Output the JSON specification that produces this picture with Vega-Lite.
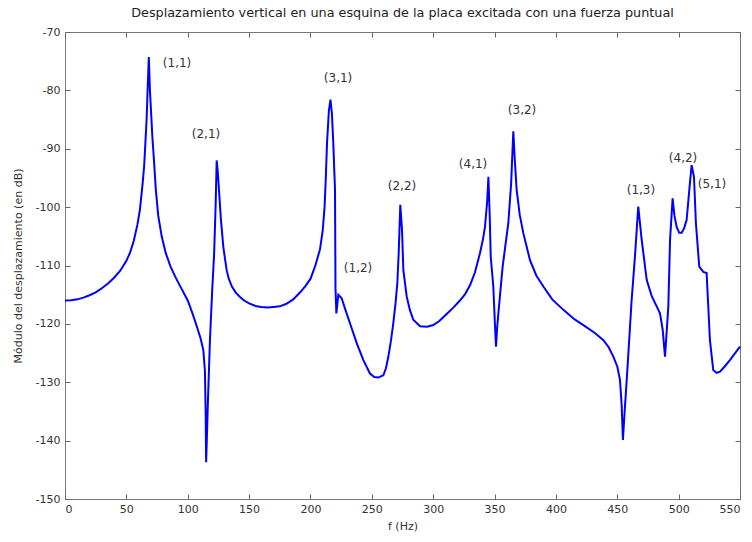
{
  "$schema": "https://vega.github.io/schema/vega-lite/v6.json",
  "width": 675,
  "height": 467,
  "autosize": {"type": "none"},
  "padding": {"left": 65, "top": 32, "right": 12, "bottom": 43},
  "background": "white",
  "title": {
    "text": "Desplazamiento vertical en una esquina de la placa excitada con una fuerza puntual",
    "font": "DejaVu Sans",
    "fontSize": 12.8,
    "fontWeight": "normal",
    "color": "#222",
    "anchor": "middle",
    "offset": 6
  },
  "config": {
    "view": {"stroke": "#777", "strokeWidth": 1},
    "axis": {
      "domain": false,
      "grid": false,
      "tickSize": 5,
      "tickColor": "#666",
      "tickWidth": 1,
      "labelFont": "DejaVu Sans",
      "labelFontSize": 11,
      "labelColor": "#333",
      "titleFont": "DejaVu Sans",
      "titleFontSize": 11,
      "titleFontWeight": "normal",
      "titleColor": "#333"
    }
  },
  "datasets": {
    "curve": [
      {"f": 0, "db": -116},
      {"f": 5, "db": -115.95},
      {"f": 10, "db": -115.8},
      {"f": 15, "db": -115.5},
      {"f": 20, "db": -115.1},
      {"f": 25, "db": -114.6},
      {"f": 30, "db": -113.9},
      {"f": 35, "db": -113.1},
      {"f": 40, "db": -112.1},
      {"f": 45, "db": -110.9},
      {"f": 50, "db": -109.2},
      {"f": 53, "db": -107.8},
      {"f": 56, "db": -105.8},
      {"f": 59, "db": -103},
      {"f": 61, "db": -100.5},
      {"f": 63, "db": -96.5},
      {"f": 64.5, "db": -93},
      {"f": 65.5, "db": -89},
      {"f": 66.5, "db": -85},
      {"f": 67.3, "db": -80},
      {"f": 68.3, "db": -74.3},
      {"f": 69.2, "db": -80},
      {"f": 70.2, "db": -84},
      {"f": 71.2, "db": -88},
      {"f": 72.5, "db": -92},
      {"f": 74, "db": -97},
      {"f": 76, "db": -101.5},
      {"f": 78.8, "db": -105},
      {"f": 82, "db": -107.8},
      {"f": 86, "db": -110.2},
      {"f": 90, "db": -112},
      {"f": 95, "db": -114},
      {"f": 100, "db": -116},
      {"f": 104, "db": -118.3},
      {"f": 107.5, "db": -120.5},
      {"f": 110.5, "db": -122.5},
      {"f": 112.7, "db": -124.5},
      {"f": 114, "db": -128},
      {"f": 114.6, "db": -135},
      {"f": 115, "db": -143.7},
      {"f": 116.5, "db": -133},
      {"f": 118.1, "db": -122.8},
      {"f": 120, "db": -114},
      {"f": 121.5, "db": -108},
      {"f": 122.7, "db": -100},
      {"f": 123.6, "db": -92},
      {"f": 124.5, "db": -94},
      {"f": 125.3, "db": -96.5},
      {"f": 127, "db": -102},
      {"f": 129, "db": -106.8},
      {"f": 131.7, "db": -110.8},
      {"f": 133.5, "db": -112.3},
      {"f": 136, "db": -113.6},
      {"f": 139, "db": -114.6},
      {"f": 142.6, "db": -115.4},
      {"f": 146, "db": -116},
      {"f": 150, "db": -116.5},
      {"f": 156.2, "db": -117},
      {"f": 160, "db": -117.1},
      {"f": 165, "db": -117.2},
      {"f": 170, "db": -117.1},
      {"f": 175, "db": -117},
      {"f": 180, "db": -116.6},
      {"f": 186, "db": -115.8},
      {"f": 192, "db": -114.5},
      {"f": 196, "db": -113.5},
      {"f": 200, "db": -112.3},
      {"f": 204, "db": -110},
      {"f": 207.8, "db": -107.2},
      {"f": 210, "db": -104},
      {"f": 211.5, "db": -100},
      {"f": 212.5, "db": -95},
      {"f": 213.5, "db": -89},
      {"f": 215, "db": -83.5},
      {"f": 216.3, "db": -81.6},
      {"f": 217.5, "db": -84},
      {"f": 218.6, "db": -89},
      {"f": 220, "db": -97},
      {"f": 220.4, "db": -113.9},
      {"f": 221.1, "db": -118.2},
      {"f": 222.7, "db": -115},
      {"f": 225.4, "db": -115.6},
      {"f": 228.5, "db": -117.6},
      {"f": 232.2, "db": -119.9},
      {"f": 237.7, "db": -123.3},
      {"f": 243.1, "db": -126.2},
      {"f": 248.5, "db": -128.5},
      {"f": 252, "db": -129.1},
      {"f": 255.3, "db": -129.2},
      {"f": 259.4, "db": -128.8},
      {"f": 261.5, "db": -127.6},
      {"f": 263.5, "db": -125.6},
      {"f": 265.5, "db": -123},
      {"f": 267.5, "db": -119.9},
      {"f": 269.3, "db": -116.5},
      {"f": 270.8, "db": -113},
      {"f": 271.9, "db": -107.9},
      {"f": 273.2, "db": -99.6},
      {"f": 274.6, "db": -103.9},
      {"f": 275.7, "db": -110.8},
      {"f": 278.4, "db": -115.3},
      {"f": 281, "db": -117.6},
      {"f": 283.8, "db": -119.3},
      {"f": 289.3, "db": -120.4},
      {"f": 295, "db": -120.5},
      {"f": 300.1, "db": -120.2},
      {"f": 305, "db": -119.5},
      {"f": 311, "db": -118.3},
      {"f": 316, "db": -117.3},
      {"f": 321.8, "db": -116},
      {"f": 326, "db": -114.9},
      {"f": 330, "db": -113.4},
      {"f": 334, "db": -111.2},
      {"f": 338.1, "db": -107.9},
      {"f": 340.5, "db": -105.6},
      {"f": 342.2, "db": -103.4},
      {"f": 344, "db": -99},
      {"f": 345, "db": -94.8},
      {"f": 346, "db": -101},
      {"f": 346.9, "db": -108.5},
      {"f": 349, "db": -113.6},
      {"f": 350.3, "db": -120},
      {"f": 351.2, "db": -123.9},
      {"f": 352, "db": -121},
      {"f": 353.1, "db": -118.2},
      {"f": 356.6, "db": -110.2},
      {"f": 359, "db": -106.3},
      {"f": 361.2, "db": -102.8},
      {"f": 363.5, "db": -96},
      {"f": 365.3, "db": -87},
      {"f": 366.5, "db": -92},
      {"f": 368, "db": -97},
      {"f": 370.5, "db": -101.3},
      {"f": 373.5, "db": -104.5},
      {"f": 378.9, "db": -109.1},
      {"f": 384, "db": -111.7},
      {"f": 389.8, "db": -113.6},
      {"f": 397, "db": -115.8},
      {"f": 406.1, "db": -117.6},
      {"f": 415, "db": -119.2},
      {"f": 425.1, "db": -120.6},
      {"f": 432, "db": -121.6},
      {"f": 438.7, "db": -122.8},
      {"f": 443, "db": -124},
      {"f": 446.8, "db": -125.6},
      {"f": 450, "db": -127.3},
      {"f": 452.2, "db": -129.6},
      {"f": 453.6, "db": -134},
      {"f": 454.6, "db": -139.9},
      {"f": 456, "db": -135},
      {"f": 457.7, "db": -129.6},
      {"f": 459.8, "db": -122.5},
      {"f": 461.7, "db": -115.9},
      {"f": 464.4, "db": -108.5},
      {"f": 467.1, "db": -99.9},
      {"f": 469.9, "db": -105.6},
      {"f": 474, "db": -112.5},
      {"f": 478, "db": -115.2},
      {"f": 482.1, "db": -117},
      {"f": 484.8, "db": -118.2},
      {"f": 487, "db": -121},
      {"f": 488.9, "db": -125.6},
      {"f": 491.6, "db": -117},
      {"f": 493, "db": -105.6},
      {"f": 495.1, "db": -98.5},
      {"f": 496.6, "db": -101.5},
      {"f": 498.4, "db": -103.4},
      {"f": 500.5, "db": -104.4},
      {"f": 502.5, "db": -104.4},
      {"f": 504.5, "db": -103.6},
      {"f": 506.5, "db": -102.2},
      {"f": 509.2, "db": -95.9},
      {"f": 510.6, "db": -92.8},
      {"f": 512.5, "db": -94.8},
      {"f": 514.1, "db": -102.8},
      {"f": 516.8, "db": -110.2},
      {"f": 520.1, "db": -111.1},
      {"f": 522.8, "db": -111.3},
      {"f": 525.5, "db": -122.8},
      {"f": 528.2, "db": -127.9},
      {"f": 531, "db": -128.4},
      {"f": 533.7, "db": -128.2},
      {"f": 537.5, "db": -127.3},
      {"f": 541.8, "db": -126.2},
      {"f": 546, "db": -125},
      {"f": 550, "db": -123.9}
    ],
    "modes": [
      {"f": 91.3, "db": -75.3, "label": "(1,1)"},
      {"f": 114.9, "db": -87.5, "label": "(2,1)"},
      {"f": 222.5, "db": -77.9, "label": "(3,1)"},
      {"f": 238.8, "db": -110.4, "label": "(1,2)"},
      {"f": 274.6, "db": -96.4, "label": "(2,2)"},
      {"f": 332.5, "db": -92.6, "label": "(4,1)"},
      {"f": 372.4, "db": -83.4, "label": "(3,2)"},
      {"f": 469.3, "db": -97.1, "label": "(1,3)"},
      {"f": 503.6, "db": -91.6, "label": "(4,2)"},
      {"f": 527.2, "db": -96, "label": "(5,1)"}
    ]
  },
  "layer": [
    {
      "data": {"name": "curve"},
      "mark": {"type": "line", "color": "#0000ff", "strokeWidth": 2, "interpolate": "linear"},
      "encoding": {
        "x": {
          "field": "f", "type": "quantitative",
          "scale": {"domain": [0, 550], "nice": false, "zero": false},
          "axis": {"orient": "bottom", "offset": -5, "title": "f (Hz)", "values": [0, 50, 100, 150, 200, 250, 300, 350, 400, 450, 500, 550], "labelPadding": 4, "titlePadding": 6}
        },
        "y": {
          "field": "db", "type": "quantitative",
          "scale": {"domain": [-150, -70], "nice": false, "zero": false},
          "axis": {"orient": "left", "offset": -5, "title": "Módulo del desplazamiento (en dB)", "values": [-150, -140, -130, -120, -110, -100, -90, -80, -70], "labelPadding": 5, "titlePadding": 12, "labelExpr": "'-' + abs(datum.value)"}
        }
      }
    },
    {
      "data": {"name": "modes"},
      "mark": {"type": "text", "font": "DejaVu Sans", "fontSize": 12, "color": "#333", "align": "center", "baseline": "middle"},
      "encoding": {
        "x": {
          "field": "f", "type": "quantitative",
          "axis": {"orient": "top", "offset": -5, "title": null, "labels": false, "values": [0, 50, 100, 150, 200, 250, 300, 350, 400, 450, 500, 550]}
        },
        "y": {
          "field": "db", "type": "quantitative",
          "axis": {"orient": "right", "offset": -5, "title": null, "labels": false, "values": [-150, -140, -130, -120, -110, -100, -90, -80, -70]}
        },
        "text": {"field": "label"}
      }
    }
  ],
  "resolve": {"axis": {"x": "independent", "y": "independent"}}
}
